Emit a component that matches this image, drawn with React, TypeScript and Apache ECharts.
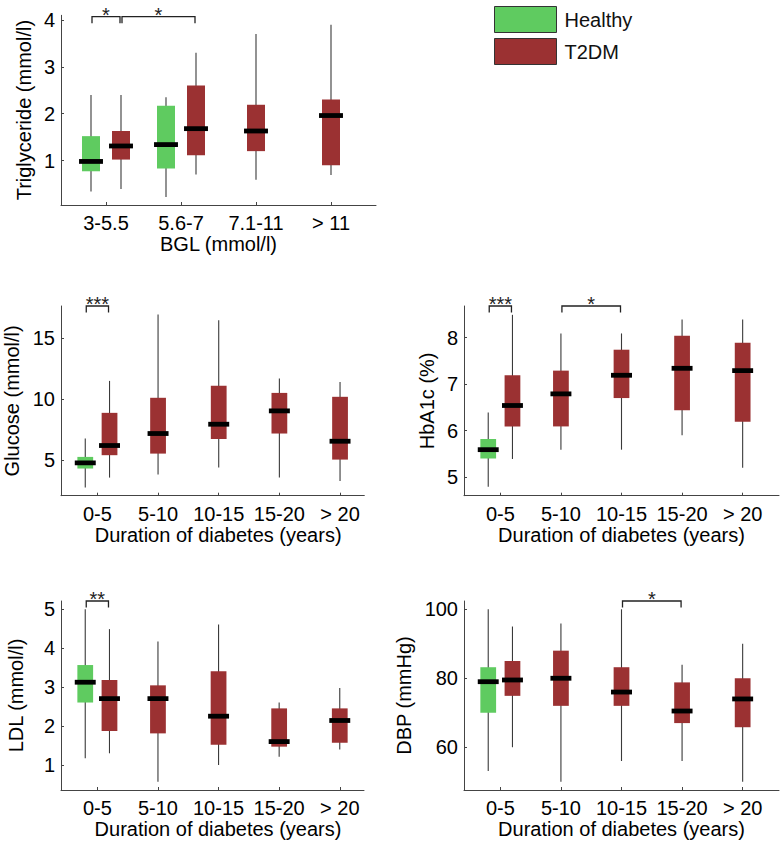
import React, { useEffect, useRef } from "react";
import * as echarts from "echarts";

// ---------------- DATA ----------------
// each box: [lowWhisker, q1, median, q3, highWhisker]
const bglCategories = ["3-5.5", "5.6-7", "7.1-11", "> 11"];
const durationCategories = ["0-5", "5-10", "10-15", "15-20", "> 20"];

const tgHealthy = [
  [0.34, 0.77, 0.98, 1.52, 2.4],
  [0.22, 0.83, 1.34, 2.17, 2.35],
];
const tgT2dm = [
  [0.39, 1.02, 1.31, 1.63, 2.4],
  [0.7, 1.11, 1.68, 2.6, 3.3],
  [0.59, 1.2, 1.63, 2.19, 3.7],
  [0.69, 0.9, 1.96, 2.3, 3.9],
];

const gluHealthy = [[2.77, 4.32, 4.78, 5.27, 6.77]];
const gluT2dm = [
  [3.58, 5.41, 6.2, 8.87, 11.48],
  [3.83, 5.54, 7.18, 10.1, 16.9],
  [4.4, 6.74, 7.94, 11.08, 16.44],
  [3.58, 7.18, 9.03, 10.5, 11.68],
  [3.31, 5.05, 6.55, 10.18, 11.38],
];

const hbHealthy = [[4.79, 5.4, 5.59, 5.82, 6.39]];
const hbT2dm = [
  [5.39, 6.09, 6.54, 7.19, 8.49],
  [5.59, 6.09, 6.79, 7.29, 8.09],
  [5.59, 6.7, 7.19, 7.74, 8.09],
  [5.9, 6.44, 7.34, 8.04, 8.39],
  [5.2, 6.19, 7.29, 7.89, 8.39],
];

const ldlHealthy = [[1.17, 2.6, 3.12, 3.56, 4.99]];
const ldlT2dm = [
  [1.3, 1.87, 2.7, 3.18, 4.48],
  [0.57, 1.81, 2.7, 3.04, 4.16],
  [1.0, 1.52, 2.25, 3.4, 4.6],
  [1.21, 1.47, 1.6, 2.45, 2.6],
  [1.4, 1.57, 2.14, 2.45, 2.97],
];

const dbpHealthy = [[53.1, 70.0, 79.0, 83.2, 100]];
const dbpT2dm = [
  [60, 74.9, 79.5, 85.0, 95],
  [50, 72, 80, 88, 95.9],
  [56, 72, 76, 83.2, 100],
  [56, 67, 70.5, 78.8, 83.9],
  [50, 65.8, 74, 80, 90],
];

// significance brackets: [x from, x to, y level], with labels
const tgBrackets = [
  [0.8, 1.2, 4.07],
  [1.2, 2.2, 4.07],
];
const tgBracketLabels = ["*", "*"];
const gluBrackets = [[0.8, 1.2, 17.6]];
const gluBracketLabels = ["***"];
const hbBrackets = [
  [0.8, 1.2, 8.68],
  [2, 3, 8.68],
];
const hbBracketLabels = ["***", "*"];
const ldlBrackets = [[0.8, 1.2, 5.2]];
const ldlBracketLabels = ["**"];
const dbpBrackets = [[3, 4, 102.4]];
const dbpBracketLabels = ["*"];

const tgTicks = [1, 2, 3, 4];
const gluTicks = [5, 10, 15];
const hbTicks = [5, 6, 7, 8];
const ldlTicks = [1, 2, 3, 4, 5];
const dbpTicks = [60, 80, 100];

// ---------------- STYLE / LAYOUT ----------------
const FONT = "'Liberation Sans', Arial, Helvetica, sans-serif";
const GREEN = "#5fcb60";
const RED = "#9b3132";
const AXIS = "#444";

const panels = [
  {
    grid: { left: 61, top: 15.3, width: 315, height: 189.7 },
    x: [0.4, 4.6], y: [0.05, 4.1],
    cats: bglCategories, yTicks: tgTicks,
    xName: "BGL (mmol/l)", yName: "Triglyceride (mmol/l)", yGap: 27, xPad: 0,
    healthy: tgHealthy, t2dm: tgT2dm, brackets: tgBrackets, labels: tgBracketLabels, boxW: 0.24,
  },
  {
    grid: { left: 61, top: 306, width: 303.3, height: 189.7 },
    x: [0.4, 5.4], y: [2.1, 17.6],
    cats: durationCategories, yTicks: gluTicks,
    xName: "Duration of diabetes (years)", yName: "Glucose (mmol/l)", yGap: 39, xPad: 11,
    healthy: gluHealthy, t2dm: gluT2dm, brackets: gluBrackets, labels: gluBracketLabels, boxW: 0.26,
  },
  {
    grid: { left: 464, top: 306, width: 315, height: 189.7 },
    x: [0.4, 5.6], y: [4.6, 8.68],
    cats: durationCategories, yTicks: hbTicks,
    xName: "Duration of diabetes (years)", yName: "HbA1c (%)", yGap: 27, xPad: 0,
    healthy: hbHealthy, t2dm: hbT2dm, brackets: hbBrackets, labels: hbBracketLabels, boxW: 0.26,
  },
  {
    grid: { left: 61, top: 601, width: 303, height: 189 },
    x: [0.4, 5.4], y: [0.36, 5.2],
    cats: durationCategories, yTicks: ldlTicks,
    xName: "Duration of diabetes (years)", yName: "LDL (mmol/l)", yGap: 35, xPad: 11,
    healthy: ldlHealthy, t2dm: ldlT2dm, brackets: ldlBrackets, labels: ldlBracketLabels, boxW: 0.26,
  },
  {
    grid: { left: 464, top: 601, width: 315, height: 189 },
    x: [0.4, 5.6], y: [47.6, 102.4],
    cats: durationCategories, yTicks: dbpTicks,
    xName: "Duration of diabetes (years)", yName: "DBP (mmHg)", yGap: 50, xPad: 0,
    healthy: dbpHealthy, t2dm: dbpT2dm, brackets: dbpBrackets, labels: dbpBracketLabels, boxW: 0.26,
  },
];

function boxRenderer(color: string, boxW: number) {
  return (params: any, api: any) => {
    const x = api.value(0);
    const low = api.coord([x, api.value(1)]);
    const q1 = api.coord([x, api.value(2)]);
    const med = api.coord([x, api.value(3)]);
    const q3 = api.coord([x, api.value(4)]);
    const high = api.coord([x, api.value(5)]);
    const w = api.size([boxW, 0])[0];
    const mw = w * 1.33;
    return {
      type: "group",
      children: [
        {
          type: "line",
          shape: { x1: low[0], y1: low[1], x2: high[0], y2: high[1] },
          style: { stroke: "#3a3a3a", lineWidth: 1.1 },
        },
        {
          type: "rect",
          shape: { x: q1[0] - w / 2, y: q3[1], width: w, height: q1[1] - q3[1] },
          style: { fill: color },
        },
        {
          type: "rect",
          shape: { x: med[0] - mw / 2, y: med[1] - 2.4, width: mw, height: 4.8 },
          style: { fill: "#000" },
        },
      ],
    };
  };
}

function bracketRenderer(labels: string[]) {
  return (params: any, api: any) => {
    const y = api.value(2);
    const a = api.coord([api.value(0), y]);
    const b = api.coord([api.value(1), y]);
    const x1 = a[0] + 1;
    const x2 = b[0] - 1;
    const top = a[1];
    return {
      type: "group",
      children: [
        {
          type: "polyline",
          shape: { points: [[x1, top + 6.5], [x1, top], [x2, top], [x2, top + 6.5]] },
          style: { stroke: "#222", lineWidth: 1.3, fill: "none" },
        },
        {
          type: "text",
          x: (x1 + x2) / 2,
          y: top - 2,
          style: {
            text: labels[params.dataIndex],
            fontSize: 20,
            fontFamily: FONT,
            fill: "#222",
            align: "center",
            verticalAlign: "middle",
          },
        },
      ],
    };
  };
}

function buildOption() {
  const grid: any[] = [];
  const xAxis: any[] = [];
  const yAxis: any[] = [];
  const series: any[] = [];

  panels.forEach((p, k) => {
    grid.push({ ...p.grid, containLabel: false });
    const xVals = p.cats.map((_, i) => i + 1);
    xAxis.push({
      type: "value",
      gridIndex: k,
      min: p.x[0],
      max: p.x[1],
      splitLine: { show: false },
      axisLine: { show: true, onZero: false, lineStyle: { color: AXIS, width: 1 } },
      axisTick: { show: true, inside: true, length: 3, customValues: xVals, lineStyle: { color: AXIS } },
      axisLabel: {
        customValues: xVals,
        formatter: (v: number) => p.cats[Math.round(v) - 1] ?? "",
        fontSize: 20,
        fontFamily: FONT,
        color: "#000",
        margin: 8,
      },
      name: p.xName,
      nameLocation: "middle",
      nameGap: 29,
      nameTextStyle: { fontSize: 20, fontFamily: FONT, color: "#000", padding: [0, 0, 0, p.xPad] },
    });
    yAxis.push({
      type: "value",
      gridIndex: k,
      min: p.y[0],
      max: p.y[1],
      splitLine: { show: false },
      axisLine: { show: true, onZero: false, lineStyle: { color: AXIS, width: 1 } },
      axisTick: { show: true, inside: true, length: 3, customValues: p.yTicks, lineStyle: { color: AXIS } },
      axisLabel: {
        customValues: p.yTicks,
        fontSize: 20,
        fontFamily: FONT,
        color: "#000",
        margin: 6,
      },
      name: p.yName,
      nameLocation: "middle",
      nameGap: p.yGap,
      nameTextStyle: { fontSize: 20, fontFamily: FONT, color: "#000" },
    });

    const nH = p.healthy.length;
    series.push({
      type: "custom",
      name: "Healthy",
      xAxisIndex: k,
      yAxisIndex: k,
      itemStyle: { color: GREEN },
      encode: { x: 0, y: [1, 2, 3, 4, 5] },
      renderItem: boxRenderer(GREEN, p.boxW),
      data: p.healthy.map((v, i) => [i + 1 - 0.2, ...v]),
      silent: true,
    });
    series.push({
      type: "custom",
      name: "T2DM",
      xAxisIndex: k,
      yAxisIndex: k,
      itemStyle: { color: RED },
      encode: { x: 0, y: [1, 2, 3, 4, 5] },
      renderItem: boxRenderer(RED, p.boxW),
      data: p.t2dm.map((v, i) => [i + 1 + (i < nH ? 0.2 : 0), ...v]),
      silent: true,
    });
    series.push({
      type: "custom",
      name: "sig" + k,
      xAxisIndex: k,
      yAxisIndex: k,
      encode: { x: [0, 1], y: 2 },
      renderItem: bracketRenderer(p.labels),
      data: p.brackets,
      clip: false,
      silent: true,
    });
  });

  return {
    animation: false,
    backgroundColor: "#fff",
    textStyle: { fontFamily: FONT },
    grid,
    xAxis,
    yAxis,
    legend: {
      orient: "vertical",
      left: 494,
      top: 6,
      padding: 0,
      itemWidth: 62,
      itemHeight: 26,
      itemGap: 5,
      icon: "rect",
      selectedMode: false,
      textStyle: { fontSize: 20, fontFamily: FONT, color: "#111", padding: [0, 0, 0, 3] },
      data: [
        { name: "Healthy", itemStyle: { color: GREEN, borderColor: "#333", borderWidth: 1 } },
        { name: "T2DM", itemStyle: { color: RED, borderColor: "#333", borderWidth: 1 } },
      ],
    },
    series,
  };
}

export default function App() {
  const ref = useRef<HTMLDivElement>(null);
  useEffect(() => {
    document.body.style.margin = "0";
    const chart = echarts.init(ref.current as HTMLDivElement, null, { renderer: "svg" });
    chart.setOption(buildOption() as any);
    return () => {
      chart.dispose();
    };
  }, []);
  return <div ref={ref} style={{ width: 784, height: 844 }} />;
}
